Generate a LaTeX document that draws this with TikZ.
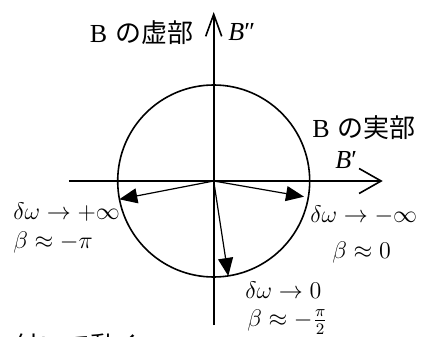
\documentclass[tikz,border=0pt]{standalone}
\usepackage{fontspec}
\usepackage{amsmath}
\setmainfont{Liberation Serif}
\newfontfamily\jfont{Noto Sans CJK JP}
\usetikzlibrary{positioning, arrows.meta, calc}

\begin{document}
\begin{tikzpicture}[
  x=0.5pt, y=0.5pt,
  font=\fontsize{13}{15}\selectfont,
  axisline/.style={
    line width=0.8pt,
    color=black
  },
  phasor/.style={
    line width=0.6pt,
    -{Triangle[length=9pt, width=7.5pt]}
  },
  axlbl/.style={
    inner sep=0pt,
    font=\fontsize{13}{15}\selectfont
  },
  lbl/.style={
    inner sep=0pt,
    anchor=west,
    font=\fontsize{11.5}{13}\selectfont
  }
]

  % --- Frame (keeps the margins of the page) ---
  \useasboundingbox (-213.7,-155) rectangle (207.3,181);

  % --- Axes ---
  \coordinate (O)    at (0,0);
  \coordinate (xlo)  at (-144.7,0);
  \coordinate (xhi)  at (169,0);
  \coordinate (ylo)  at (0,-144);
  \coordinate (yhi)  at (0,169);
  \draw[axisline, -{Straight Barb[length=11pt, width=12.5pt]}] (xlo) -- (xhi);
  \draw[axisline, -{Straight Barb[length=11pt, width=8pt]}]    (ylo) -- (yhi);

  % --- Circle of B ---
  \draw[axisline] (O) circle[radius=96];

  % --- Phasors from the origin ---
  \coordinate (pinf) at (-94.4,-18.3);
  \coordinate (minf) at (90.3,-15.7);
  \coordinate (zero) at (14.6,-95);
  \foreach \t in {pinf, minf, zero}
    \draw[phasor] (O) -- (\t);

  % --- Axis labels ---
  \node[axlbl, anchor=east] (imlbl) at (-20,148) {B\hspace{4pt}{\jfont の虚部}};
  \node[axlbl, anchor=west] (bim)   at (14.3,149) {\textit{B}″};
  \node[axlbl, anchor=west] (relbl) at (98.3,53)  {B\hspace{4pt}{\jfont の実部}};
  \node[axlbl, anchor=west] (bre)   at (121.3,21) {\textit{B}′};

  % --- Limit labels ---
  \node[lbl] (lpinf) at (-200.7,-30.7) {$\delta\omega \to +\infty$};
  \node[lbl] (bpinf) at (-200.7,-61)   {$\beta \approx -\pi$};
  \node[lbl] (lminf) at (96.3,-34)     {$\delta\omega \to -\infty$};
  \node[lbl] (bminf) at (118.3,-71)    {$\beta \approx 0$};
  \node[lbl] (lzero) at (31.3,-109)    {$\delta\omega \to 0$};
  \node[lbl] (bzero) at (33.3,-141)    {$\beta \approx -\frac{\pi}{2}$};

  % --- Text of the next line, cut by the page edge ---
  \node[inner sep=0pt, anchor=north west] (cut) at (-200.7,-152) {\jfont 付いて動く};

\end{tikzpicture}
\end{document}
